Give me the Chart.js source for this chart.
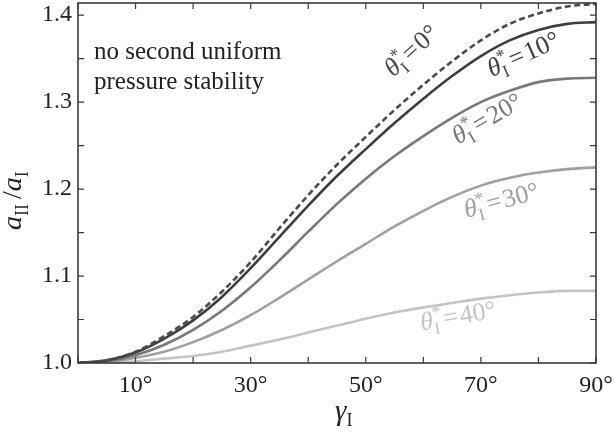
<!DOCTYPE html>
<html>
<head>
<meta charset="utf-8">
<script src="https://cdn.jsdelivr.net/npm/chart.js@4.4.0/dist/chart.umd.min.js"></script>
<style>
  html, body { margin: 0; padding: 0; background: #fff; }
  #wrap { width: 614px; height: 435px; }
</style>
</head>
<body>
<div id="wrap"><canvas id="chart" width="614" height="435"></canvas></div>
<script>
// gamma_I in degrees
const angles = [0, 5, 10, 15, 20, 25, 30, 35, 40, 45, 50, 55, 60, 65, 70, 75, 80, 85, 90];

// a_II / a_I for each theta*_I
const theta0 = [1.000, 1.003, 1.013, 1.031, 1.053, 1.082, 1.116, 1.155, 1.193, 1.228, 1.260, 1.291, 1.320, 1.347, 1.371, 1.390, 1.402, 1.410, 1.413];
const theta10 = [1.000, 1.003, 1.012, 1.028, 1.049, 1.076, 1.109, 1.145, 1.181, 1.215, 1.246, 1.276, 1.304, 1.330, 1.353, 1.371, 1.383, 1.390, 1.392];
const theta20 = [1.000, 1.002, 1.009, 1.021, 1.038, 1.060, 1.087, 1.118, 1.151, 1.183, 1.212, 1.238, 1.261, 1.282, 1.300, 1.313, 1.323, 1.327, 1.328];
const theta30 = [1.000, 1.001, 1.006, 1.013, 1.024, 1.038, 1.055, 1.075, 1.096, 1.117, 1.137, 1.157, 1.175, 1.191, 1.204, 1.213, 1.219, 1.223, 1.225];
const theta40 = [1.000, 1.000, 1.002, 1.005, 1.008, 1.013, 1.020, 1.027, 1.035, 1.043, 1.051, 1.058, 1.064, 1.069, 1.074, 1.078, 1.081, 1.083, 1.083];

const curveNames = ['0°', '10°', '20°', '30°', '40°'];
const xTicks = [0, 10, 20, 30, 40, 50, 60, 70, 80, 90];
const xLabels = [10, 30, 50, 70, 90];
const yTicks = [1.0, 1.05, 1.1, 1.15, 1.2, 1.25, 1.3, 1.35, 1.4];
const yLabels = [1.0, 1.1, 1.2, 1.3, 1.4];

const serif = '"Liberation Serif", "DejaVu Serif", serif';
const colors = ['#4a4a4a', '#3e3e3e', '#787878', '#a0a0a0', '#c4c4c4'];
const series = [theta0, theta10, theta20, theta30, theta40];

// label anchors in data units: [gamma, ratio, rotation deg]
const labelSpots = [
  [57.8, 1.360, -42],
  [77.3, 1.356, -24],
  [71.0, 1.282, -30],
  [73.5, 1.188, -15],
  [66.0, 1.055, -10]
];

function drawTheta(ctx, name, color) {
  // θ*_I = value, centred on the origin
  ctx.fillStyle = color;
  ctx.textBaseline = 'alphabetic';
  ctx.font = 'italic 26px ' + serif;
  const wT = ctx.measureText('θ').width;
  ctx.font = '17px ' + serif;
  const wI = ctx.measureText('I').width;
  const wS = ctx.measureText('*').width;
  ctx.font = '26px ' + serif;
  const wE = ctx.measureText('=').width;
  const wR = ctx.measureText(name).width;
  const total = wT + Math.max(wI, wS) + 2 + wE + 2 + wR;
  let x = -total / 2;
  const base = 9;
  ctx.font = 'italic 26px ' + serif;
  ctx.fillText('θ', x, base);
  x += wT;
  ctx.font = '18px ' + serif;
  ctx.fillText('*', x, base - 10);
  ctx.font = '17px ' + serif;
  ctx.fillText('I', x, base + 6);
  x += Math.max(wI, wS) + 2;
  ctx.font = '26px ' + serif;
  ctx.fillText('=', x, base);
  x += wE + 2;
  ctx.fillText(name, x, base);
}

const decor = {
  id: 'decor',
  afterDatasetsDraw(chart) {
    const ctx = chart.ctx;
    const xs = chart.scales.x, ys = chart.scales.y;
    const a = chart.chartArea;
    ctx.save();
    // frame
    ctx.strokeStyle = '#3a3a3a';
    ctx.lineWidth = 1.6;
    ctx.strokeRect(a.left, a.top, a.right - a.left, a.bottom - a.top);
    // inward ticks on all sides
    ctx.lineWidth = 1.2;
    ctx.beginPath();
    xTicks.forEach(v => {
      const px = xs.getPixelForValue(v);
      ctx.moveTo(px, a.bottom); ctx.lineTo(px, a.bottom - 6);
      ctx.moveTo(px, a.top); ctx.lineTo(px, a.top + 6);
    });
    yTicks.forEach(v => {
      const py = ys.getPixelForValue(v);
      ctx.moveTo(a.left, py); ctx.lineTo(a.left + 6, py);
      ctx.moveTo(a.right, py); ctx.lineTo(a.right - 6, py);
    });
    ctx.stroke();

    // curve labels
    labelSpots.forEach((s, i) => {
      ctx.save();
      ctx.translate(xs.getPixelForValue(s[0]), ys.getPixelForValue(s[1]));
      ctx.rotate(s[2] * Math.PI / 180);
      drawTheta(ctx, curveNames[i], colors[i]);
      ctx.restore();
    });

    // note
    ctx.fillStyle = '#222';
    ctx.font = '25px ' + serif;
    ctx.textBaseline = 'middle';
    ctx.textAlign = 'left';
    ctx.fillText('no second uniform', a.left + 16, 52);
    ctx.fillText('pressure stability', a.left + 16, 82);

    // x title: γ_I
    ctx.textBaseline = 'alphabetic';
    ctx.font = 'italic 29px ' + serif;
    ctx.fillText('γ', 335, 420);
    const gw = ctx.measureText('γ').width;
    ctx.font = '18px ' + serif;
    ctx.fillText('I', 335 + gw, 426);

    // y title: a_II / a_I rotated
    ctx.save();
    ctx.translate(21, 190);
    ctx.rotate(-Math.PI / 2);
    ctx.font = 'italic 28px ' + serif;
    let x = -40;
    ctx.fillText('a', x, 0); x += ctx.measureText('a').width;
    ctx.font = '18px ' + serif;
    ctx.fillText('II', x, 7); x += ctx.measureText('II').width + 5;
    ctx.font = '28px ' + serif;
    ctx.fillText('/', x, 0); x += ctx.measureText('/').width;
    ctx.font = 'italic 28px ' + serif;
    ctx.fillText('a', x, 0); x += ctx.measureText('a').width;
    ctx.font = '18px ' + serif;
    ctx.fillText('I', x, 7);
    ctx.restore();
    ctx.restore();
  }
};

new Chart(document.getElementById('chart'), {
  type: 'line',
  data: {
    labels: angles,
    datasets: series.map((vals, i) => ({
      label: curveNames[i],
      data: angles.map((g, j) => ({ x: g, y: vals[j] })),
      borderColor: colors[i],
      borderWidth: 2.6,
      borderDash: i === 0 ? [6, 3.5] : [],
      pointRadius: 0,
      fill: false,
      cubicInterpolationMode: 'monotone'
    }))
  },
  options: {
    responsive: false,
    animation: false,
    layout: { padding: { top: 3, right: 18, left: 0, bottom: 0 } },
    plugins: { legend: { display: false }, tooltip: { enabled: false } },
    scales: {
      x: {
        type: 'linear',
        min: 0,
        max: 90,
        afterBuildTicks: s => { s.ticks = xTicks.map(v => ({ value: v })); },
        afterFit: s => { s.height = 72; s.paddingLeft = 0; s.paddingRight = 0; },
        grid: { display: false, drawTicks: false },
        border: { display: false },
        ticks: {
          padding: 8,
          color: '#222',
          font: { family: serif, size: 24 },
          maxRotation: 0,
          autoSkip: false,
          callback: v => xLabels.includes(v) ? v + '°' : ''
        }
      },
      y: {
        min: 1.0,
        max: 1.414,
        afterBuildTicks: s => { s.ticks = yTicks.map(v => ({ value: v })); },
        afterFit: s => { s.width = 78; s.paddingTop = 0; s.paddingBottom = 0; },
        grid: { display: false, drawTicks: false },
        border: { display: false },
        ticks: {
          padding: 6,
          color: '#222',
          font: { family: serif, size: 24 },
          autoSkip: false,
          callback: v => yLabels.some(l => Math.abs(l - v) < 1e-6) ? v.toFixed(1) : ''
        }
      }
    }
  },
  plugins: [decor]
});
</script>
</body>
</html>
